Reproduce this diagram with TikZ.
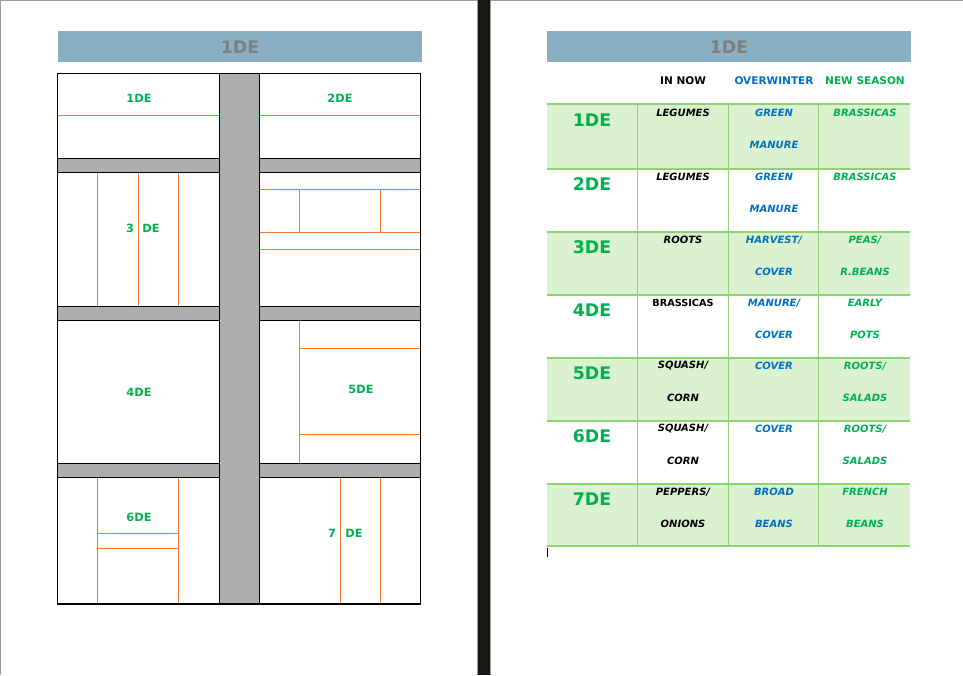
\documentclass[tikz,border=0pt]{standalone}
\usepackage{fontspec}
\setmainfont{DejaVu Sans}
\definecolor{hdr}{HTML}{8BAFC2}
\definecolor{pathc}{HTML}{ADADAD}
\definecolor{bedline}{HTML}{ED7D31}
\definecolor{lbl}{HTML}{00B050}
\definecolor{blu}{HTML}{0070C0}
\definecolor{rowg}{HTML}{DAF2D0}
\definecolor{gridc}{HTML}{8FD370}
\definecolor{hdrtxt}{HTML}{7F7F7F}
\definecolor{pageedge}{HTML}{9A9A9A}
\definecolor{gutter}{HTML}{1A1712}
\tikzset{
  bedbox/.style={draw=black, line width=1.05pt},
  pathbox/.style={fill=pathc, draw=black, line width=1.05pt},
  subline/.style={draw=bedline, line width=0.75pt},
  gridline/.style={draw=gridc, line width=0.8pt},
  plantxt/.style={font=\bfseries\fontsize{8.5}{10}\selectfont, text=lbl, inner sep=0pt},
  titletxt/.style={font=\bfseries\fontsize{13}{15}\selectfont, text=hdrtxt, inner sep=0pt},
  colhead/.style={font=\bfseries\fontsize{7.9}{9}\selectfont, inner sep=0pt},
  rowlbl/.style={font=\bfseries\fontsize{13}{15}\selectfont, text=lbl, inner sep=0pt},
  celltxt/.style={font=\bfseries\itshape\fontsize{7.5}{9}\selectfont, inner sep=0pt},
  cellup/.style={font=\bfseries\fontsize{7.3}{9}\selectfont, inner sep=0pt},
}
\begin{document}
\begin{tikzpicture}[x=0.75pt,y=-0.75pt]
\useasboundingbox (0,0) rectangle (963,675);
% page edges and gutter
\draw[pageedge, line width=0.75pt] (0.5,675) -- (0.5,0.5) -- (963,0.5);
\fill[gutter] (478,0) rectangle (489.5,675);
\draw[pageedge, line width=0.75pt] (477.5,0) -- (477.5,675);
\draw[pageedge, line width=0.75pt] (490,0) -- (490,675);

% ===== left page =====
\fill[hdr] (58,31) rectangle (422,62);
\node[titletxt] (lt) at (240,47) {1DE};

% orange sub-divisions
\draw[subline] (57.5,115.5) -- (219.5,115.5);
\draw[subline] (259.5,115.5) -- (420.5,115.5);
\draw[subline] (97.5,172.5) -- (97.5,306.5);
\draw[subline] (138.5,172.5) -- (138.5,306.5);
\draw[subline] (178.5,172.5) -- (178.5,306.5);
\draw[subline] (259.5,189.5) -- (420.5,189.5);
\draw[subline] (259.5,232) -- (420.5,232);
\draw[subline] (259.5,249.5) -- (420.5,249.5);
\draw[subline] (299.5,189.5) -- (299.5,232);
\draw[subline] (380.5,189.5) -- (380.5,232);
\draw[subline] (299.5,320.5) -- (299.5,463.5);
\draw[subline] (299.5,348.5) -- (420.5,348.5);
\draw[subline] (299.5,434.5) -- (420.5,434.5);
\draw[subline] (97.5,477.5) -- (97.5,604);
\draw[subline] (178.5,477.5) -- (178.5,604);
\draw[subline] (97.5,533.5) -- (178.5,533.5);
\draw[subline] (97.5,548.5) -- (178.5,548.5);
\draw[subline] (340.5,477.5) -- (340.5,604);
\draw[subline] (380.5,477.5) -- (380.5,604);

% beds and paths
\draw[bedbox] (57.5,73.5) rectangle (420.5,604);
\draw[pathbox] (219.5,73.5) rectangle (259.5,604);
\draw[pathbox] (57.5,158.5) rectangle (219.5,172.5);
\draw[pathbox] (259.5,158.5) rectangle (420.5,172.5);
\draw[pathbox] (57.5,306.5) rectangle (219.5,320.5);
\draw[pathbox] (259.5,306.5) rectangle (420.5,320.5);
\draw[pathbox] (57.5,463.5) rectangle (219.5,477.5);
\draw[pathbox] (259.5,463.5) rectangle (420.5,477.5);

\node[plantxt] (b1) at (139,98) {1DE};
\node[plantxt] (b2) at (340,98) {2DE};
\node[plantxt] (b3a) at (130,228) {3};
\node[plantxt] (b3b) at (151,228) {DE};
\node[plantxt] (b4) at (139,392) {4DE};
\node[plantxt] (b5) at (361,389) {5DE};
\node[plantxt] (b6) at (139,517) {6DE};
\node[plantxt] (b7a) at (332,533) {7};
\node[plantxt] (b7b) at (354,533) {DE};

% ===== right page =====
\fill[hdr] (547,31) rectangle (911,62);
\node[titletxt] (rt) at (729,47) {1DE};

\node[colhead, text=black] (h1) at (683,81) {IN NOW};
\node[colhead, text=blu] (h2) at (774,81) {OVERWINTER};
\node[colhead, text=lbl] (h3) at (865,81) {NEW SEASON};

% row fills
\fill[rowg] (547,104) rectangle (910,169);
\fill[rowg] (547,232) rectangle (910,295);
\fill[rowg] (547,358) rectangle (910,421);
\fill[rowg] (547,484) rectangle (910,546);
% grid
\foreach \yy in {104,169,232,295,358,421,484,546}
  \draw[gridline] (547,\yy) -- (910,\yy);
\foreach \xx in {637.5,728.5,818.5}
  \draw[gridline] (\xx,104) -- (\xx,546);

% row labels
\node[rowlbl] (r1) at (592,120) {1DE};
\node[rowlbl] (r2) at (592,184) {2DE};
\node[rowlbl] (r3) at (592,247) {3DE};
\node[rowlbl] (r4) at (592,310) {4DE};
\node[rowlbl] (r5) at (592,373) {5DE};
\node[rowlbl] (r6) at (592,436) {6DE};
\node[rowlbl] (r7) at (592,499) {7DE};

% IN NOW column
\node[celltxt, text=black] (a1) at (683,113) {LEGUMES};
\node[celltxt, text=black] (a2) at (683,177) {LEGUMES};
\node[celltxt, text=black] (a3) at (683,240) {ROOTS};
\node[cellup, text=black] (a4) at (683,303) {BRASSICAS};
\node[celltxt, text=black] (a5) at (683,366) {SQUASH/};
\node[celltxt, text=black] (a5b) at (683,398) {CORN};
\node[celltxt, text=black] (a6) at (683,429) {SQUASH/};
\node[celltxt, text=black] (a6b) at (683,461) {CORN};
\node[celltxt, text=black] (a7) at (683,492) {PEPPERS/};
\node[celltxt, text=black] (a7b) at (683,524) {ONIONS};

% OVERWINTER column
\node[celltxt, text=blu] (o1) at (774,113) {GREEN};
\node[celltxt, text=blu] (o1b) at (774,145) {MANURE};
\node[celltxt, text=blu] (o2) at (774,177) {GREEN};
\node[celltxt, text=blu] (o2b) at (774,209) {MANURE};
\node[celltxt, text=blu] (o3) at (774,240) {HARVEST/};
\node[celltxt, text=blu] (o3b) at (774,272) {COVER};
\node[celltxt, text=blu] (o4) at (774,303) {MANURE/};
\node[celltxt, text=blu] (o4b) at (774,335) {COVER};
\node[celltxt, text=blu] (o5) at (774,366) {COVER};
\node[celltxt, text=blu] (o6) at (774,429) {COVER};
\node[celltxt, text=blu] (o7) at (774,492) {BROAD};
\node[celltxt, text=blu] (o7b) at (774,524) {BEANS};

% NEW SEASON column
\node[celltxt, text=lbl] (n1) at (865,113) {BRASSICAS};
\node[celltxt, text=lbl] (n2) at (865,177) {BRASSICAS};
\node[celltxt, text=lbl] (n3) at (865,240) {PEAS/};
\node[celltxt, text=lbl] (n3b) at (865,272) {R.BEANS};
\node[celltxt, text=lbl] (n4) at (865,303) {EARLY};
\node[celltxt, text=lbl] (n4b) at (865,335) {POTS};
\node[celltxt, text=lbl] (n5) at (865,366) {ROOTS/};
\node[celltxt, text=lbl] (n5b) at (865,398) {SALADS};
\node[celltxt, text=lbl] (n6) at (865,429) {ROOTS/};
\node[celltxt, text=lbl] (n6b) at (865,461) {SALADS};
\node[celltxt, text=lbl] (n7) at (865,492) {FRENCH};
\node[celltxt, text=lbl] (n7b) at (865,524) {BEANS};

% text cursor
\draw[black, line width=0.6pt] (547.5,548) -- (547.5,557);
\end{tikzpicture}
\end{document}
